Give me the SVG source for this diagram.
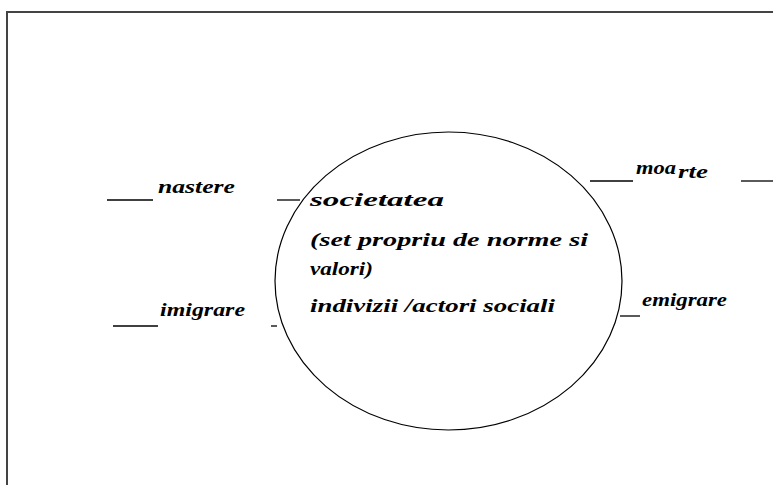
<svg xmlns="http://www.w3.org/2000/svg" width="773" height="485" viewBox="0 0 773 485">
<style>
.t{font-style:italic;font-weight:bold;font-size:19px;fill:#000}
.l{stroke:#000;stroke-width:1.3;fill:none}
</style>
<rect x="0" y="0" width="773" height="485" fill="#fff"/>
<path d="M7,485 V12 H773" stroke="#444" stroke-width="2" fill="none"/>
<g id="connectors">
<line class="l" x1="107" y1="200" x2="153" y2="200"/>
<line class="l" x1="277" y1="200" x2="300" y2="200"/>
<line class="l" x1="113" y1="326" x2="158" y2="326"/>
<line class="l" x1="271" y1="326" x2="277" y2="326"/>
<line class="l" x1="590" y1="181" x2="633" y2="181"/>
<line class="l" x1="741" y1="181" x2="773" y2="181"/>
<line class="l" x1="620" y1="316" x2="640" y2="316"/>
</g>
<g id="societatea" font-family="Liberation Serif, Times New Roman, DejaVu Serif, serif">
<ellipse cx="448.5" cy="281" rx="173.5" ry="149" fill="none" stroke="#000" stroke-width="1.2"/>
<text class="t" x="310" y="206" textLength="134" lengthAdjust="spacingAndGlyphs">societatea</text>
<text class="t" x="310" y="246" textLength="278" lengthAdjust="spacingAndGlyphs">(set propriu de norme si</text>
<text class="t" x="310" y="275" textLength="63" lengthAdjust="spacingAndGlyphs">valori)</text>
<text class="t" x="310" y="312" textLength="245" lengthAdjust="spacingAndGlyphs">indivizii /actori sociali</text>
</g>
<g id="nastere" font-family="Liberation Serif, Times New Roman, DejaVu Serif, serif"><text class="t" x="158" y="193" textLength="77" lengthAdjust="spacingAndGlyphs">nastere</text></g>
<g id="imigrare" font-family="Liberation Serif, Times New Roman, DejaVu Serif, serif"><text class="t" x="160" y="316" textLength="85" lengthAdjust="spacingAndGlyphs">imigrare</text></g>
<g id="moarte" font-family="Liberation Serif, Times New Roman, DejaVu Serif, serif"><text class="t" x="636" y="174" textLength="40" lengthAdjust="spacingAndGlyphs">moa</text><text class="t" x="678" y="178" textLength="30" lengthAdjust="spacingAndGlyphs">rte</text></g>
<g id="emigrare" font-family="Liberation Serif, Times New Roman, DejaVu Serif, serif"><text class="t" x="642" y="306" textLength="85" lengthAdjust="spacingAndGlyphs">emigrare</text></g>
</svg>
